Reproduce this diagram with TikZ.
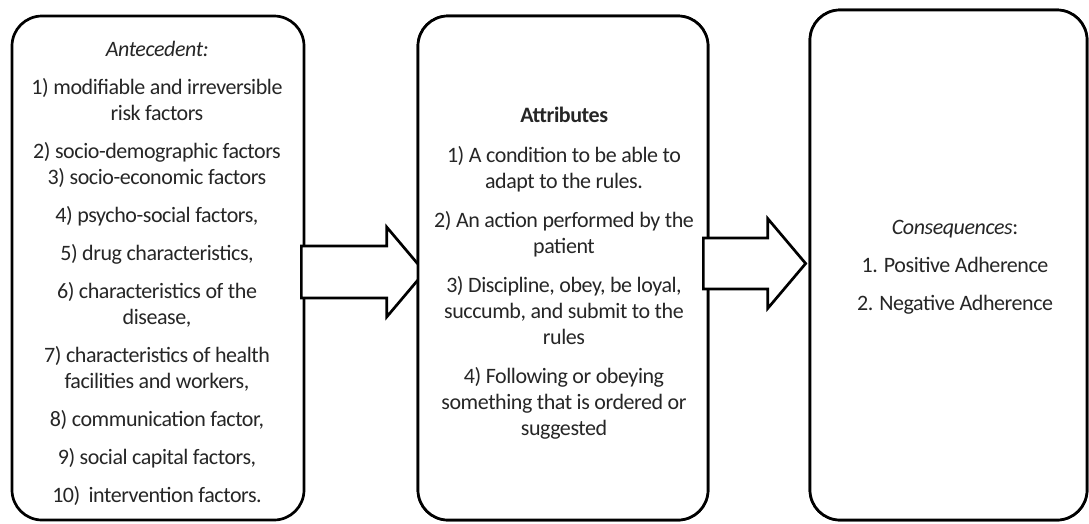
\documentclass[tikz,border=0pt]{standalone}
\usepackage{fontspec}
\setmainfont{Carlito}[LetterSpace=-2]
\usetikzlibrary{calc}
\begin{document}
\begin{tikzpicture}[x=1pt,y=-1pt,
  box/.style={draw=black, line width=2.7pt, rounded corners=30pt, fill=white, inner sep=0pt},
  txt/.style={align=center, text=black!85, font=\fontsize{22}{26}\selectfont, inner sep=0pt},
  blockarrow/.style={draw=black, line width=2.7pt, fill=white, line join=miter}]
\useasboundingbox (0,0) rectangle (1089,523);
% boxes and arrows (drawing order matters)
\node[box, minimum width=292pt, minimum height=504pt] (ante) at (158,268) {};
\coordinate (s1) at ($(ante.east)+(-4,4)$);
\node[box, minimum width=290pt, minimum height=504pt] (attr) at (563,268) {};
\coordinate (t1) at ($(attr.west)+(8,4)$);
\draw[blockarrow] ($(s1)+(0,-26)$) -- ($(t1)+(-38,-26)$) -- ($(t1)+(-38,-45)$) -- (t1)
  -- ($(t1)+(-38,45)$) -- ($(t1)+(-38,26)$) -- ($(s1)+(0,26)$) -- cycle;
\node[box, minimum width=290pt, minimum height=504pt] (attr2) at (563,268) {};
\coordinate (s2) at ($(attr.east)+(-6,-4.5)$);
\node[box, minimum width=277pt, minimum height=510pt] (cons) at (948.5,265) {};
\coordinate (t2) at ($(cons.west)+(-3,-1.5)$);
\draw[blockarrow] ($(s2)+(0,-25.5)$) -- ($(t2)+(-38,-25.5)$) -- ($(t2)+(-38,-45)$) -- (t2)
  -- ($(t2)+(-38,45)$) -- ($(t2)+(-38,25.5)$) -- ($(s2)+(0,25.5)$) -- cycle;
\node[box, minimum width=277pt, minimum height=510pt] (cons2) at (948.5,265) {};
% texts
\node[txt] (antetxt) at (157,273) {\textit{Antecedent:}\\[12pt]
  1) modifiable and irreversible\\ risk factors\\[12pt]
  2) socio-demographic factors\\ 3) socio-economic factors\\[12pt]
  4) psycho-social factors,\\[12pt]
  5) drug characteristics,\\[12pt]
  6) characteristics of the\\ disease,\\[12pt]
  7) characteristics of health\\ facilities and workers,\\[12pt]
  8) communication factor,\\[12pt]
  9) social capital factors,\\[12pt]
  10)\, intervention factors.};
\node[txt] (attrtxt) at (564,273.5) {\textbf{Attributes}\\[13.3pt]
  1) A condition to be able to\\ adapt to the rules.\\[13.3pt]
  2) An action performed by the\\ patient\\[13.3pt]
  3) Discipline, obey, be loyal,\\ succumb, and submit to the\\ rules\\[13.3pt]
  4) Following or obeying\\ something that is ordered or\\ suggested};
\node[txt] (constxt) at (955,267.5) {\textit{Consequences}:\\[12pt]
  1. Positive Adherence\\[12pt]
  2. Negative Adherence};
\end{tikzpicture}
\end{document}
